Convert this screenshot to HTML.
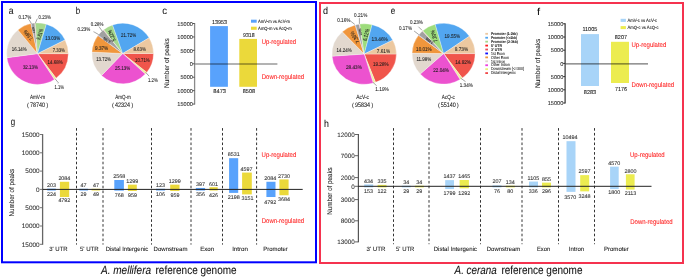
<!DOCTYPE html>
<html><head><meta charset="utf-8"><style>
html,body{margin:0;padding:0;background:#fff;}
body{width:685px;height:278px;overflow:hidden;}
svg{display:block;font-family:"Liberation Sans",sans-serif;will-change:transform;text-rendering:geometricPrecision;}
</style></head><body>
<svg width="685" height="278" viewBox="0 0 685 278">
<rect width="685" height="278" fill="#fff"/>
<rect x="2" y="2" width="314" height="260.3" fill="none" stroke="#0000ff" stroke-width="2"/>
<rect x="320" y="3" width="363" height="260" fill="none" stroke="#f5334f" stroke-width="2"/>
<text x="8.80" y="13.80" font-size="10.0" fill="#111" textLength="4.79" lengthAdjust="spacingAndGlyphs" stroke="#111" stroke-width="0.05" >a</text>
<text x="75.80" y="14.00" font-size="10.0" fill="#111" textLength="4.41" lengthAdjust="spacingAndGlyphs" stroke="#111" stroke-width="0.05" >b</text>
<text x="162.30" y="14.30" font-size="10.0" fill="#111" textLength="4.80" lengthAdjust="spacingAndGlyphs" stroke="#111" stroke-width="0.05" >c</text>
<text x="323.10" y="14.10" font-size="10.0" fill="#111" textLength="5.01" lengthAdjust="spacingAndGlyphs" stroke="#111" stroke-width="0.05" >d</text>
<text x="390.70" y="14.00" font-size="10.0" fill="#111" textLength="4.51" lengthAdjust="spacingAndGlyphs" stroke="#111" stroke-width="0.05" >e</text>
<text x="537.00" y="14.60" font-size="10.0" fill="#111" textLength="3.08" lengthAdjust="spacingAndGlyphs" stroke="#111" stroke-width="0.05" >f</text>
<text x="10.80" y="125.30" font-size="10.0" fill="#111" textLength="4.41" lengthAdjust="spacingAndGlyphs" stroke="#111" stroke-width="0.05" >g</text>
<text x="323.90" y="127.40" font-size="10.0" fill="#111" textLength="4.91" lengthAdjust="spacingAndGlyphs" stroke="#111" stroke-width="0.05" >h</text>
<path d="M37.50,53.65 L68.300,53.650 A30.8,30.75 0 0 1 56.101,78.159 Z" fill="#f0554b" stroke="#fff" stroke-width="0.3" stroke-linejoin="round"/>
<path d="M37.50,53.65 L56.101,78.159 A30.8,30.75 0 0 1 54.361,79.383 Z" fill="#eef0a0" stroke="#fff" stroke-width="0.3" stroke-linejoin="round"/>
<path d="M37.50,53.65 L54.361,79.383 A30.8,30.75 0 0 1 6.965,57.676 Z" fill="#ec52cf" stroke="#fff" stroke-width="0.3" stroke-linejoin="round"/>
<path d="M37.50,53.65 L6.965,57.676 A30.8,30.75 0 0 1 17.942,29.895 Z" fill="#e2d8ce" stroke="#fff" stroke-width="0.3" stroke-linejoin="round"/>
<path d="M37.50,53.65 L17.942,29.895 A30.8,30.75 0 0 1 30.989,23.595 Z" fill="#f0963c" stroke="#fff" stroke-width="0.3" stroke-linejoin="round"/>
<path d="M37.50,53.65 L30.989,23.595 A30.8,30.75 0 0 1 31.311,23.527 Z" fill="#3030e8" stroke="#fff" stroke-width="0.3" stroke-linejoin="round"/>
<path d="M37.50,53.65 L31.311,23.527 A30.8,30.75 0 0 1 34.794,23.019 Z" fill="#a0a0a0" stroke="#fff" stroke-width="0.3" stroke-linejoin="round"/>
<path d="M37.50,53.65 L34.794,23.019 A30.8,30.75 0 0 1 35.238,22.983 Z" fill="#e87080" stroke="#fff" stroke-width="0.3" stroke-linejoin="round"/>
<path d="M37.50,53.65 L35.238,22.983 A30.8,30.75 0 0 1 46.353,24.198 Z" fill="#a6d98e" stroke="#fff" stroke-width="0.3" stroke-linejoin="round"/>
<path d="M37.50,53.65 L46.353,24.198 A30.8,30.75 0 0 1 65.091,39.983 Z" fill="#52a6f0" stroke="#fff" stroke-width="0.3" stroke-linejoin="round"/>
<path d="M37.50,53.65 L65.091,39.983 A30.8,30.75 0 0 1 68.300,53.650 Z" fill="#ecc8a0" stroke="#fff" stroke-width="0.3" stroke-linejoin="round"/>
<path d="M122.70,53.50 L153.500,53.500 A30.8,30.3 0 0 1 146.786,72.385 Z" fill="#f0554b" stroke="#fff" stroke-width="0.3" stroke-linejoin="round"/>
<path d="M122.70,53.50 L146.786,72.385 A30.8,30.3 0 0 1 145.271,74.117 Z" fill="#eef0a0" stroke="#fff" stroke-width="0.3" stroke-linejoin="round"/>
<path d="M122.70,53.50 L145.271,74.117 A30.8,30.3 0 0 1 101.560,75.536 Z" fill="#ec52cf" stroke="#fff" stroke-width="0.3" stroke-linejoin="round"/>
<path d="M122.70,53.50 L101.560,75.536 A30.8,30.3 0 0 1 91.935,52.054 Z" fill="#e2d8ce" stroke="#fff" stroke-width="0.3" stroke-linejoin="round"/>
<path d="M122.70,53.50 L91.935,52.054 A30.8,30.3 0 0 1 97.931,35.490 Z" fill="#f0963c" stroke="#fff" stroke-width="0.3" stroke-linejoin="round"/>
<path d="M122.70,53.50 L97.931,35.490 A30.8,30.3 0 0 1 98.198,35.140 Z" fill="#3030e8" stroke="#fff" stroke-width="0.3" stroke-linejoin="round"/>
<path d="M122.70,53.50 L98.198,35.140 A30.8,30.3 0 0 1 103.292,29.972 Z" fill="#a0a0a0" stroke="#fff" stroke-width="0.3" stroke-linejoin="round"/>
<path d="M122.70,53.50 L103.292,29.972 A30.8,30.3 0 0 1 103.716,29.640 Z" fill="#e87080" stroke="#fff" stroke-width="0.3" stroke-linejoin="round"/>
<path d="M122.70,53.50 L103.716,29.640 A30.8,30.3 0 0 1 112.540,24.896 Z" fill="#a6d98e" stroke="#fff" stroke-width="0.3" stroke-linejoin="round"/>
<path d="M122.70,53.50 L112.540,24.896 A30.8,30.3 0 0 1 149.082,37.864 Z" fill="#52a6f0" stroke="#fff" stroke-width="0.3" stroke-linejoin="round"/>
<path d="M122.70,53.50 L149.082,37.864 A30.8,30.3 0 0 1 153.500,53.500 Z" fill="#ecc8a0" stroke="#fff" stroke-width="0.3" stroke-linejoin="round"/>
<path d="M364.20,54.05 L396.400,54.050 A32.2,30.25 0 0 1 375.525,82.367 Z" fill="#f0554b" stroke="#fff" stroke-width="0.3" stroke-linejoin="round"/>
<path d="M364.20,54.05 L375.525,82.367 A32.2,30.25 0 0 1 373.242,83.083 Z" fill="#eef0a0" stroke="#fff" stroke-width="0.3" stroke-linejoin="round"/>
<path d="M364.20,54.05 L373.242,83.083 A32.2,30.25 0 0 1 332.077,56.139 Z" fill="#ec52cf" stroke="#fff" stroke-width="0.3" stroke-linejoin="round"/>
<path d="M364.20,54.05 L332.077,56.139 A32.2,30.25 0 0 1 342.365,31.817 Z" fill="#e2d8ce" stroke="#fff" stroke-width="0.3" stroke-linejoin="round"/>
<path d="M364.20,54.05 L342.365,31.817 A32.2,30.25 0 0 1 355.216,25.001 Z" fill="#f0963c" stroke="#fff" stroke-width="0.3" stroke-linejoin="round"/>
<path d="M364.20,54.05 L355.216,25.001 A32.2,30.25 0 0 1 355.528,24.918 Z" fill="#3030e8" stroke="#fff" stroke-width="0.3" stroke-linejoin="round"/>
<path d="M364.20,54.05 L355.528,24.918 A32.2,30.25 0 0 1 359.363,24.143 Z" fill="#a0a0a0" stroke="#fff" stroke-width="0.3" stroke-linejoin="round"/>
<path d="M364.20,54.05 L359.363,24.143 A32.2,30.25 0 0 1 359.783,24.086 Z" fill="#e87080" stroke="#fff" stroke-width="0.3" stroke-linejoin="round"/>
<path d="M364.20,54.05 L359.783,24.086 A32.2,30.25 0 0 1 372.071,24.718 Z" fill="#9ddc7c" stroke="#fff" stroke-width="0.3" stroke-linejoin="round"/>
<path d="M364.20,54.05 L372.071,24.718 A32.2,30.25 0 0 1 392.789,40.131 Z" fill="#52a6f0" stroke="#fff" stroke-width="0.3" stroke-linejoin="round"/>
<path d="M364.20,54.05 L392.789,40.131 A32.2,30.25 0 0 1 396.400,54.050 Z" fill="#ecc8a0" stroke="#fff" stroke-width="0.3" stroke-linejoin="round"/>
<path d="M443.60,53.60 L475.100,53.600 A31.5,30.4 0 0 1 462.243,78.104 Z" fill="#f0554b" stroke="#fff" stroke-width="0.3" stroke-linejoin="round"/>
<path d="M443.60,53.60 L462.243,78.104 A31.5,30.4 0 0 1 460.042,79.530 Z" fill="#eef0a0" stroke="#fff" stroke-width="0.3" stroke-linejoin="round"/>
<path d="M443.60,53.60 L460.042,79.530 A31.5,30.4 0 0 1 420.235,73.989 Z" fill="#ec52cf" stroke="#fff" stroke-width="0.3" stroke-linejoin="round"/>
<path d="M443.60,53.60 L420.235,73.989 A31.5,30.4 0 0 1 412.105,53.065 Z" fill="#e2d8ce" stroke="#fff" stroke-width="0.3" stroke-linejoin="round"/>
<path d="M443.60,53.60 L412.105,53.065 A31.5,30.4 0 0 1 418.458,35.286 Z" fill="#f0963c" stroke="#fff" stroke-width="0.3" stroke-linejoin="round"/>
<path d="M443.60,53.60 L418.458,35.286 A31.5,30.4 0 0 1 418.662,35.028 Z" fill="#3030e8" stroke="#fff" stroke-width="0.3" stroke-linejoin="round"/>
<path d="M443.60,53.60 L418.662,35.028 A31.5,30.4 0 0 1 422.459,31.064 Z" fill="#a0a0a0" stroke="#fff" stroke-width="0.3" stroke-linejoin="round"/>
<path d="M443.60,53.60 L422.459,31.064 A31.5,30.4 0 0 1 422.798,30.771 Z" fill="#e87080" stroke="#fff" stroke-width="0.3" stroke-linejoin="round"/>
<path d="M443.60,53.60 L422.798,30.771 A31.5,30.4 0 0 1 435.231,24.293 Z" fill="#9ddc7c" stroke="#fff" stroke-width="0.3" stroke-linejoin="round"/>
<path d="M443.60,53.60 L435.231,24.293 A31.5,30.4 0 0 1 469.394,36.151 Z" fill="#52a6f0" stroke="#fff" stroke-width="0.3" stroke-linejoin="round"/>
<path d="M443.60,53.60 L469.394,36.151 A31.5,30.4 0 0 1 475.100,53.600 Z" fill="#ecc8a0" stroke="#fff" stroke-width="0.3" stroke-linejoin="round"/>
<text x="18.60" y="18.80" font-size="5.5" fill="#1c1c1c" textLength="12.80" lengthAdjust="spacingAndGlyphs" stroke="#1c1c1c" stroke-width="0.08" >0.17%</text>
<text x="38.60" y="18.60" font-size="5.5" fill="#1c1c1c" textLength="12.10" lengthAdjust="spacingAndGlyphs" stroke="#1c1c1c" stroke-width="0.08" >0.23%</text>
<path d="M28.30,19.10 L29.00,19.60 L31.40,23.50" fill="none" stroke="#333" stroke-width="0.45"/>
<path d="M37.60,18.60 L37.00,19.30 L35.30,23.30" fill="none" stroke="#333" stroke-width="0.45"/>
<text x="45.30" y="39.60" font-size="5.5" fill="#1c1c1c" textLength="14.70" lengthAdjust="spacingAndGlyphs" stroke="#1c1c1c" stroke-width="0.08" >13.03%</text>
<text x="52.70" y="52.30" font-size="5.5" fill="#1c1c1c" textLength="12.20" lengthAdjust="spacingAndGlyphs" stroke="#1c1c1c" stroke-width="0.08" >7.33%</text>
<text x="11.80" y="50.80" font-size="5.5" fill="#1c1c1c" textLength="14.90" lengthAdjust="spacingAndGlyphs" stroke="#1c1c1c" stroke-width="0.08" >16.14%</text>
<text x="47.60" y="63.60" font-size="5.5" fill="#1c1c1c" textLength="15.00" lengthAdjust="spacingAndGlyphs" stroke="#1c1c1c" stroke-width="0.08" >14.68%</text>
<text x="22.90" y="69.00" font-size="5.5" fill="#1c1c1c" textLength="15.10" lengthAdjust="spacingAndGlyphs" stroke="#1c1c1c" stroke-width="0.08" >32.13%</text>
<text x="54.40" y="88.60" font-size="5.5" fill="#1c1c1c" textLength="9.60" lengthAdjust="spacingAndGlyphs" stroke="#1c1c1c" stroke-width="0.08" >1.1%</text>
<path d="M55.10,78.80 L58.30,82.70 L58.00,83.40" fill="none" stroke="#333" stroke-width="0.45"/>
<text x="28.25" y="35.15" font-size="5.5" fill="#1c1c1c" stroke="#1c1c1c" stroke-width="0.08" text-anchor="middle" dy="0.36em" textLength="11.50" lengthAdjust="spacingAndGlyphs" transform="rotate(-131 28.25 35.15)">7.56%</text>
<text x="39.80" y="34.20" font-size="5.5" fill="#1c1c1c" stroke="#1c1c1c" stroke-width="0.08" text-anchor="middle" dy="0.36em" textLength="11.30" lengthAdjust="spacingAndGlyphs" transform="rotate(-72 39.80 34.20)">5.81%</text>
<text x="33.40" y="30.00" font-size="3.2" fill="#1c1c1c" stroke="#1c1c1c" stroke-width="0.08" text-anchor="middle" dy="0.36em" textLength="6.00" lengthAdjust="spacingAndGlyphs" transform="rotate(-100 33.40 30.00)">1.82%</text>
<text x="90.80" y="26.00" font-size="5.5" fill="#1c1c1c" textLength="12.60" lengthAdjust="spacingAndGlyphs" stroke="#1c1c1c" stroke-width="0.08" >0.28%</text>
<text x="77.50" y="30.80" font-size="5.5" fill="#1c1c1c" textLength="12.80" lengthAdjust="spacingAndGlyphs" stroke="#1c1c1c" stroke-width="0.08" >0.23%</text>
<path d="M99.00,26.60 L102.20,31.10" fill="none" stroke="#333" stroke-width="0.45"/>
<path d="M93.50,31.70 L94.50,32.20 L98.70,34.60" fill="none" stroke="#333" stroke-width="0.45"/>
<text x="121.10" y="37.20" font-size="5.5" fill="#1c1c1c" textLength="15.00" lengthAdjust="spacingAndGlyphs" stroke="#1c1c1c" stroke-width="0.08" >21.72%</text>
<text x="133.40" y="51.20" font-size="5.5" fill="#1c1c1c" textLength="12.60" lengthAdjust="spacingAndGlyphs" stroke="#1c1c1c" stroke-width="0.08" >8.63%</text>
<text x="96.20" y="60.60" font-size="5.5" fill="#1c1c1c" textLength="14.80" lengthAdjust="spacingAndGlyphs" stroke="#1c1c1c" stroke-width="0.08" >13.72%</text>
<text x="135.00" y="61.80" font-size="5.5" fill="#1c1c1c" textLength="14.70" lengthAdjust="spacingAndGlyphs" stroke="#1c1c1c" stroke-width="0.08" >10.71%</text>
<text x="115.10" y="70.20" font-size="5.5" fill="#1c1c1c" textLength="15.00" lengthAdjust="spacingAndGlyphs" stroke="#1c1c1c" stroke-width="0.08" >25.13%</text>
<text x="95.00" y="50.00" font-size="5.5" fill="#1c1c1c" textLength="13.20" lengthAdjust="spacingAndGlyphs" stroke="#1c1c1c" stroke-width="0.08" >9.37%</text>
<text x="147.90" y="81.50" font-size="5.5" fill="#1c1c1c" textLength="9.90" lengthAdjust="spacingAndGlyphs" stroke="#1c1c1c" stroke-width="0.08" >1.2%</text>
<path d="M145.70,72.40 L149.10,76.20" fill="none" stroke="#333" stroke-width="0.45"/>
<text x="111.65" y="35.75" font-size="5.5" fill="#1c1c1c" stroke="#1c1c1c" stroke-width="0.08" text-anchor="middle" dy="0.36em" textLength="12.00" lengthAdjust="spacingAndGlyphs" transform="rotate(-111.5 111.65 35.75)">5.22%</text>
<text x="106.80" y="40.30" font-size="4.2" fill="#1c1c1c" stroke="#1c1c1c" stroke-width="0.08" text-anchor="middle" dy="0.36em" textLength="8.00" lengthAdjust="spacingAndGlyphs" transform="rotate(-145 106.80 40.30)">3.79%</text>
<text x="337.20" y="21.50" font-size="5.5" fill="#1c1c1c" textLength="13.30" lengthAdjust="spacingAndGlyphs" stroke="#1c1c1c" stroke-width="0.08" >0.16%</text>
<text x="354.10" y="16.80" font-size="5.5" fill="#1c1c1c" textLength="13.20" lengthAdjust="spacingAndGlyphs" stroke="#1c1c1c" stroke-width="0.08" >0.21%</text>
<path d="M350.50,21.30 L351.20,21.60 L354.80,24.40" fill="none" stroke="#333" stroke-width="0.45"/>
<path d="M359.60,17.90 L359.40,18.60 L359.40,23.90" fill="none" stroke="#333" stroke-width="0.45"/>
<text x="371.60" y="40.70" font-size="5.5" fill="#1c1c1c" textLength="16.30" lengthAdjust="spacingAndGlyphs" stroke="#1c1c1c" stroke-width="0.08" >13.46%</text>
<text x="376.80" y="52.50" font-size="5.5" fill="#1c1c1c" textLength="13.30" lengthAdjust="spacingAndGlyphs" stroke="#1c1c1c" stroke-width="0.08" >7.61%</text>
<text x="336.60" y="51.60" font-size="5.5" fill="#1c1c1c" textLength="15.10" lengthAdjust="spacingAndGlyphs" stroke="#1c1c1c" stroke-width="0.08" >14.24%</text>
<text x="373.00" y="66.40" font-size="5.5" fill="#1c1c1c" textLength="15.50" lengthAdjust="spacingAndGlyphs" stroke="#1c1c1c" stroke-width="0.08" >19.28%</text>
<text x="346.00" y="69.00" font-size="5.5" fill="#1c1c1c" textLength="15.80" lengthAdjust="spacingAndGlyphs" stroke="#1c1c1c" stroke-width="0.08" >28.43%</text>
<text x="375.30" y="90.80" font-size="5.5" fill="#1c1c1c" textLength="13.50" lengthAdjust="spacingAndGlyphs" stroke="#1c1c1c" stroke-width="0.08" >1.19%</text>
<path d="M373.00,82.40 L376.60,85.70" fill="none" stroke="#333" stroke-width="0.45"/>
<text x="354.80" y="37.35" font-size="5.5" fill="#1c1c1c" stroke="#1c1c1c" stroke-width="0.08" text-anchor="middle" dy="0.36em" textLength="13.00" lengthAdjust="spacingAndGlyphs" transform="rotate(-122 354.80 37.35)">7.36%</text>
<text x="366.10" y="34.80" font-size="5.5" fill="#1c1c1c" stroke="#1c1c1c" stroke-width="0.08" text-anchor="middle" dy="0.36em" textLength="12.20" lengthAdjust="spacingAndGlyphs" transform="rotate(-75 366.10 34.80)">6.12%</text>
<text x="360.30" y="32.00" font-size="3.3" fill="#1c1c1c" stroke="#1c1c1c" stroke-width="0.08" text-anchor="middle" dy="0.36em" textLength="7.00" lengthAdjust="spacingAndGlyphs" transform="rotate(-100 360.30 32.00)">1.94%</text>
<text x="410.00" y="23.80" font-size="5.5" fill="#1c1c1c" textLength="12.90" lengthAdjust="spacingAndGlyphs" stroke="#1c1c1c" stroke-width="0.08" >0.23%</text>
<text x="399.00" y="30.00" font-size="5.5" fill="#1c1c1c" textLength="13.00" lengthAdjust="spacingAndGlyphs" stroke="#1c1c1c" stroke-width="0.08" >0.17%</text>
<path d="M418.40,26.70 L422.00,30.30" fill="none" stroke="#333" stroke-width="0.45"/>
<path d="M414.10,31.00 L418.80,34.60" fill="none" stroke="#333" stroke-width="0.45"/>
<text x="444.60" y="38.00" font-size="5.5" fill="#1c1c1c" textLength="15.40" lengthAdjust="spacingAndGlyphs" stroke="#1c1c1c" stroke-width="0.08" >19.55%</text>
<text x="454.70" y="50.60" font-size="5.5" fill="#1c1c1c" textLength="13.40" lengthAdjust="spacingAndGlyphs" stroke="#1c1c1c" stroke-width="0.08" >9.73%</text>
<text x="416.10" y="50.60" font-size="5.5" fill="#1c1c1c" textLength="15.50" lengthAdjust="spacingAndGlyphs" stroke="#1c1c1c" stroke-width="0.08" >10.01%</text>
<text x="455.20" y="63.70" font-size="5.5" fill="#1c1c1c" textLength="15.80" lengthAdjust="spacingAndGlyphs" stroke="#1c1c1c" stroke-width="0.08" >14.92%</text>
<text x="416.40" y="60.70" font-size="5.5" fill="#1c1c1c" textLength="14.80" lengthAdjust="spacingAndGlyphs" stroke="#1c1c1c" stroke-width="0.08" >11.98%</text>
<text x="433.30" y="72.00" font-size="5.5" fill="#1c1c1c" textLength="15.60" lengthAdjust="spacingAndGlyphs" stroke="#1c1c1c" stroke-width="0.08" >22.04%</text>
<text x="459.80" y="86.50" font-size="5.5" fill="#1c1c1c" textLength="13.00" lengthAdjust="spacingAndGlyphs" stroke="#1c1c1c" stroke-width="0.08" >1.34%</text>
<path d="M460.70,78.20 L465.50,81.60" fill="none" stroke="#333" stroke-width="0.45"/>
<text x="434.00" y="36.20" font-size="5.5" fill="#1c1c1c" stroke="#1c1c1c" stroke-width="0.08" text-anchor="middle" dy="0.36em" textLength="12.00" lengthAdjust="spacingAndGlyphs" transform="rotate(-107 434.00 36.20)">7.20%</text>
<text x="429.30" y="40.80" font-size="4.0" fill="#1c1c1c" stroke="#1c1c1c" stroke-width="0.08" text-anchor="middle" dy="0.36em" textLength="8.00" lengthAdjust="spacingAndGlyphs" transform="rotate(-145 429.30 40.80)">2.83%</text>
<text x="29.90" y="99.40" font-size="6.0" fill="#222" textLength="15.20" lengthAdjust="spacingAndGlyphs" stroke="#222" stroke-width="0.08" >AmV-m</text>
<text x="29.95" y="106.60" font-size="6.4" fill="#222" textLength="15.10" lengthAdjust="spacingAndGlyphs" stroke="#222" stroke-width="0.08" >78740</text>
<text x="26.90" y="106.90" font-size="5.9" fill="#222" stroke="#222" stroke-width="0.08" >(</text>
<text x="46.14" y="106.90" font-size="5.9" fill="#222" stroke="#222" stroke-width="0.08" >)</text>
<text x="115.20" y="99.40" font-size="6.0" fill="#222" textLength="15.49" lengthAdjust="spacingAndGlyphs" stroke="#222" stroke-width="0.08" >AmQ-m</text>
<text x="114.95" y="106.60" font-size="6.4" fill="#222" textLength="15.10" lengthAdjust="spacingAndGlyphs" stroke="#222" stroke-width="0.08" >42324</text>
<text x="111.90" y="106.90" font-size="5.9" fill="#222" stroke="#222" stroke-width="0.08" >(</text>
<text x="131.14" y="106.90" font-size="5.9" fill="#222" stroke="#222" stroke-width="0.08" >)</text>
<text x="356.20" y="99.40" font-size="6.0" fill="#222" textLength="12.80" lengthAdjust="spacingAndGlyphs" stroke="#222" stroke-width="0.08" >AcV-c</text>
<text x="354.95" y="106.60" font-size="6.4" fill="#222" textLength="15.10" lengthAdjust="spacingAndGlyphs" stroke="#222" stroke-width="0.08" >95834</text>
<text x="351.90" y="106.90" font-size="5.9" fill="#222" stroke="#222" stroke-width="0.08" >(</text>
<text x="371.14" y="106.90" font-size="5.9" fill="#222" stroke="#222" stroke-width="0.08" >)</text>
<text x="441.80" y="99.40" font-size="6.0" fill="#222" textLength="13.00" lengthAdjust="spacingAndGlyphs" stroke="#222" stroke-width="0.08" >AcQ-c</text>
<text x="440.80" y="106.60" font-size="6.4" fill="#222" textLength="15.10" lengthAdjust="spacingAndGlyphs" stroke="#222" stroke-width="0.08" >55140</text>
<text x="438.00" y="106.90" font-size="5.9" fill="#222" stroke="#222" stroke-width="0.08" >(</text>
<text x="456.74" y="106.90" font-size="5.9" fill="#222" stroke="#222" stroke-width="0.08" >)</text>
<rect x="485.30" y="32.90" width="2.70" height="1.80" fill="#ecc8a0"/>
<text x="491.00" y="35.00" font-size="3.9" fill="#1e1e1e" textLength="26.50" lengthAdjust="spacingAndGlyphs" font-weight="bold" stroke="#1e1e1e" stroke-width="0.08" >Promoter (1-2kb)</text>
<rect x="485.30" y="36.83" width="2.70" height="1.80" fill="#52a6f0"/>
<text x="491.00" y="38.93" font-size="3.9" fill="#1e1e1e" textLength="26.00" lengthAdjust="spacingAndGlyphs" font-weight="bold" stroke="#1e1e1e" stroke-width="0.08" >Promoter (&lt;=1kb)</text>
<rect x="485.30" y="40.76" width="2.70" height="1.80" fill="#a6d98e"/>
<text x="491.00" y="42.86" font-size="3.9" fill="#1e1e1e" textLength="26.80" lengthAdjust="spacingAndGlyphs" font-weight="bold" stroke="#1e1e1e" stroke-width="0.08" >Promoter (2-3kb)</text>
<rect x="485.30" y="44.69" width="2.70" height="1.80" fill="#ff2020"/>
<text x="491.00" y="46.79" font-size="3.9" fill="#1e1e1e" textLength="10.90" lengthAdjust="spacingAndGlyphs" font-weight="bold" stroke="#1e1e1e" stroke-width="0.08" >5' UTR</text>
<rect x="485.30" y="48.62" width="2.70" height="1.80" fill="#e8505a"/>
<text x="491.00" y="50.72" font-size="3.9" fill="#1e1e1e" textLength="11.00" lengthAdjust="spacingAndGlyphs" font-weight="bold" stroke="#1e1e1e" stroke-width="0.08" >3' UTR</text>
<rect x="485.30" y="52.55" width="2.70" height="1.80" fill="#1010ff"/>
<text x="491.00" y="54.65" font-size="4.3" fill="#222" textLength="13.60" lengthAdjust="spacingAndGlyphs" stroke="#222" stroke-width="0.08" >1st Exon</text>
<rect x="485.30" y="56.48" width="2.70" height="1.80" fill="#f0963c"/>
<text x="491.00" y="58.58" font-size="4.3" fill="#222" textLength="17.90" lengthAdjust="spacingAndGlyphs" stroke="#222" stroke-width="0.08" >Other Exon</text>
<rect x="485.30" y="60.41" width="2.70" height="1.80" fill="#e2d8ce"/>
<text x="491.00" y="62.51" font-size="4.3" fill="#222" textLength="14.20" lengthAdjust="spacingAndGlyphs" stroke="#222" stroke-width="0.08" >1st Intron</text>
<rect x="485.30" y="64.34" width="2.70" height="1.80" fill="#f040e0"/>
<text x="491.00" y="66.44" font-size="4.3" fill="#222" textLength="18.70" lengthAdjust="spacingAndGlyphs" stroke="#222" stroke-width="0.08" >Other Intron</text>
<rect x="485.30" y="68.27" width="2.70" height="1.80" fill="#e8f07a"/>
<text x="491.00" y="70.37" font-size="4.3" fill="#222" textLength="33.10" lengthAdjust="spacingAndGlyphs" stroke="#222" stroke-width="0.08" >Downstream (&lt;=300)</text>
<rect x="485.30" y="72.20" width="2.70" height="1.80" fill="#f04848"/>
<text x="491.00" y="74.30" font-size="4.3" fill="#222" textLength="24.60" lengthAdjust="spacingAndGlyphs" stroke="#222" stroke-width="0.08" >Distal Intergenic</text>
<line x1="194.60" y1="23.06" x2="194.60" y2="104.54" stroke="#8a8a8a" stroke-width="1.3" />
<line x1="192.60" y1="23.51" x2="194.60" y2="23.51" stroke="#444" stroke-width="0.9" />
<text x="177.33" y="25.71" font-size="5.6" fill="#333" stroke="#333" stroke-width="0.08" >15000</text>
<line x1="192.60" y1="36.94" x2="194.60" y2="36.94" stroke="#444" stroke-width="0.9" />
<text x="177.33" y="39.14" font-size="5.6" fill="#333" stroke="#333" stroke-width="0.08" >10000</text>
<line x1="192.60" y1="50.37" x2="194.60" y2="50.37" stroke="#444" stroke-width="0.9" />
<text x="180.44" y="52.57" font-size="5.6" fill="#333" stroke="#333" stroke-width="0.08" >5000</text>
<line x1="192.60" y1="63.80" x2="194.60" y2="63.80" stroke="#444" stroke-width="0.9" />
<text x="189.79" y="66.00" font-size="5.6" fill="#333" stroke="#333" stroke-width="0.08" >0</text>
<line x1="192.60" y1="77.23" x2="194.60" y2="77.23" stroke="#444" stroke-width="0.9" />
<text x="180.44" y="79.43" font-size="5.6" fill="#333" stroke="#333" stroke-width="0.08" >5000</text>
<line x1="192.60" y1="90.66" x2="194.60" y2="90.66" stroke="#444" stroke-width="0.9" />
<text x="177.33" y="92.86" font-size="5.6" fill="#333" stroke="#333" stroke-width="0.08" >10000</text>
<line x1="192.60" y1="104.09" x2="194.60" y2="104.09" stroke="#444" stroke-width="0.9" />
<text x="177.33" y="106.29" font-size="5.6" fill="#333" stroke="#333" stroke-width="0.08" >15000</text>
<rect x="210.10" y="26.10" width="17.80" height="60.70" fill="#58a2fc"/>
<rect x="239.30" y="38.90" width="17.70" height="47.90" fill="#ebd93a"/>
<line x1="195.20" y1="63.90" x2="277.40" y2="63.90" stroke="#000" stroke-width="1.5" stroke-opacity="0.4"/>
<text x="212.00" y="23.80" font-size="5.6" fill="#1a1a1a" textLength="15.10" lengthAdjust="spacingAndGlyphs" stroke="#1a1a1a" stroke-width="0.08" >13953</text>
<text x="213.30" y="92.70" font-size="5.6" fill="#1a1a1a" textLength="12.70" lengthAdjust="spacingAndGlyphs" stroke="#1a1a1a" stroke-width="0.08" >8473</text>
<text x="243.00" y="37.00" font-size="5.6" fill="#1a1a1a" textLength="11.60" lengthAdjust="spacingAndGlyphs" stroke="#1a1a1a" stroke-width="0.08" >9318</text>
<text x="242.80" y="93.40" font-size="5.6" fill="#1a1a1a" textLength="12.30" lengthAdjust="spacingAndGlyphs" stroke="#1a1a1a" stroke-width="0.08" >8508</text>
<rect x="251.00" y="19.70" width="5.70" height="3.00" fill="#58a2fc"/>
<text x="258.10" y="23.00" font-size="4.6" fill="#1a1a1a" textLength="31.90" lengthAdjust="spacingAndGlyphs" stroke="#1a1a1a" stroke-width="0.08" >AmV-m vs AcV-m</text>
<rect x="251.00" y="26.70" width="5.70" height="3.10" fill="#ebd93a"/>
<text x="258.10" y="29.90" font-size="4.6" fill="#1a1a1a" textLength="33.60" lengthAdjust="spacingAndGlyphs" stroke="#1a1a1a" stroke-width="0.08" >AmQ-m vs AcQ-m</text>
<text x="261.75" y="43.90" font-size="6.8" fill="#ff2424" textLength="34.24" lengthAdjust="spacingAndGlyphs" stroke="#ff2424" stroke-width="0.08" >Up-regulated</text>
<text x="261.80" y="79.10" font-size="6.8" fill="#ff2424" textLength="42.30" lengthAdjust="spacingAndGlyphs" stroke="#ff2424" stroke-width="0.08" >Down-regulated</text>
<text x="144.40" y="63.10" font-size="6.9" fill="#222" textLength="49.80" lengthAdjust="spacingAndGlyphs" stroke="#222" stroke-width="0.08" transform="rotate(-90 169.30 63.10)" >Number of peaks</text>
<line x1="565.10" y1="23.35" x2="565.10" y2="103.45" stroke="#222" stroke-width="1.1" />
<line x1="563.10" y1="23.80" x2="565.10" y2="23.80" stroke="#222" stroke-width="0.9" />
<text x="547.73" y="26.00" font-size="5.6" fill="#333" stroke="#333" stroke-width="0.08" >15000</text>
<line x1="563.10" y1="37.00" x2="565.10" y2="37.00" stroke="#222" stroke-width="0.9" />
<text x="547.73" y="39.20" font-size="5.6" fill="#333" stroke="#333" stroke-width="0.08" >10000</text>
<line x1="563.10" y1="50.20" x2="565.10" y2="50.20" stroke="#222" stroke-width="0.9" />
<text x="550.84" y="52.40" font-size="5.6" fill="#333" stroke="#333" stroke-width="0.08" >5000</text>
<line x1="563.10" y1="63.40" x2="565.10" y2="63.40" stroke="#222" stroke-width="0.9" />
<text x="560.19" y="65.60" font-size="5.6" fill="#333" stroke="#333" stroke-width="0.08" >0</text>
<line x1="563.10" y1="76.60" x2="565.10" y2="76.60" stroke="#222" stroke-width="0.9" />
<text x="550.84" y="78.80" font-size="5.6" fill="#333" stroke="#333" stroke-width="0.08" >5000</text>
<line x1="563.10" y1="89.80" x2="565.10" y2="89.80" stroke="#222" stroke-width="0.9" />
<text x="547.73" y="92.00" font-size="5.6" fill="#333" stroke="#333" stroke-width="0.08" >10000</text>
<line x1="563.10" y1="103.00" x2="565.10" y2="103.00" stroke="#222" stroke-width="0.9" />
<text x="547.73" y="105.20" font-size="5.6" fill="#333" stroke="#333" stroke-width="0.08" >15000</text>
<rect x="581.00" y="34.10" width="18.00" height="51.90" fill="#a8d4f8"/>
<rect x="611.00" y="41.80" width="18.00" height="41.20" fill="#ecec50"/>
<line x1="565.60" y1="63.85" x2="648.00" y2="63.85" stroke="#000" stroke-width="1.3" stroke-opacity="0.55"/>
<text x="582.40" y="30.70" font-size="5.6" fill="#1a1a1a" textLength="14.90" lengthAdjust="spacingAndGlyphs" stroke="#1a1a1a" stroke-width="0.08" >11005</text>
<text x="583.80" y="94.30" font-size="5.6" fill="#1a1a1a" textLength="12.40" lengthAdjust="spacingAndGlyphs" stroke="#1a1a1a" stroke-width="0.08" >8283</text>
<text x="614.80" y="38.80" font-size="5.6" fill="#1a1a1a" textLength="12.20" lengthAdjust="spacingAndGlyphs" stroke="#1a1a1a" stroke-width="0.08" >8207</text>
<text x="614.90" y="91.30" font-size="5.6" fill="#1a1a1a" textLength="12.00" lengthAdjust="spacingAndGlyphs" stroke="#1a1a1a" stroke-width="0.08" >7176</text>
<rect x="620.60" y="18.80" width="5.30" height="3.10" fill="#a8d4f8"/>
<text x="627.40" y="21.90" font-size="4.6" fill="#1a1a1a" textLength="29.60" lengthAdjust="spacingAndGlyphs" stroke="#1a1a1a" stroke-width="0.08" >AmV-c vs AcV-c</text>
<rect x="620.60" y="26.10" width="5.30" height="3.00" fill="#ecec50"/>
<text x="627.40" y="29.00" font-size="4.6" fill="#1a1a1a" textLength="31.20" lengthAdjust="spacingAndGlyphs" stroke="#1a1a1a" stroke-width="0.08" >AmQ-c vs AcQ-c</text>
<text x="631.50" y="46.80" font-size="6.8" fill="#ff2424" textLength="34.79" lengthAdjust="spacingAndGlyphs" stroke="#ff2424" stroke-width="0.08" >Up-regulated</text>
<text x="631.60" y="86.80" font-size="6.8" fill="#ff2424" textLength="42.50" lengthAdjust="spacingAndGlyphs" stroke="#ff2424" stroke-width="0.08" >Down-regulated</text>
<text x="515.25" y="63.35" font-size="6.9" fill="#222" textLength="49.10" lengthAdjust="spacingAndGlyphs" stroke="#222" stroke-width="0.08" transform="rotate(-90 539.80 63.35)" >Number of peaks</text>
<line x1="42.60" y1="134.05" x2="42.60" y2="244.75" stroke="#666" stroke-width="1.3" />
<line x1="40.00" y1="134.50" x2="42.60" y2="134.50" stroke="#666" stroke-width="0.9" />
<text x="21.81" y="136.80" font-size="6.4" fill="#333" stroke="#333" stroke-width="0.08" >15000</text>
<line x1="40.00" y1="152.80" x2="42.60" y2="152.80" stroke="#666" stroke-width="0.9" />
<text x="21.81" y="155.10" font-size="6.4" fill="#333" stroke="#333" stroke-width="0.08" >10000</text>
<line x1="40.00" y1="171.10" x2="42.60" y2="171.10" stroke="#666" stroke-width="0.9" />
<text x="25.36" y="173.40" font-size="6.4" fill="#333" stroke="#333" stroke-width="0.08" >5000</text>
<line x1="40.00" y1="189.40" x2="42.60" y2="189.40" stroke="#666" stroke-width="0.9" />
<text x="36.05" y="191.70" font-size="6.4" fill="#333" stroke="#333" stroke-width="0.08" >0</text>
<line x1="40.00" y1="207.70" x2="42.60" y2="207.70" stroke="#666" stroke-width="0.9" />
<text x="25.36" y="210.00" font-size="6.4" fill="#333" stroke="#333" stroke-width="0.08" >5000</text>
<line x1="40.00" y1="226.00" x2="42.60" y2="226.00" stroke="#666" stroke-width="0.9" />
<text x="21.81" y="228.30" font-size="6.4" fill="#333" stroke="#333" stroke-width="0.08" >10000</text>
<line x1="40.00" y1="244.30" x2="42.60" y2="244.30" stroke="#666" stroke-width="0.9" />
<text x="21.81" y="246.60" font-size="6.4" fill="#333" stroke="#333" stroke-width="0.08" >15000</text>
<line x1="76.50" y1="128.10" x2="76.50" y2="244.60" stroke="#333" stroke-width="1.0" stroke-dasharray="2.6 2.2"/>
<line x1="103.00" y1="128.10" x2="103.00" y2="244.60" stroke="#333" stroke-width="1.0" stroke-dasharray="2.6 2.2"/>
<line x1="151.50" y1="128.10" x2="151.50" y2="244.60" stroke="#333" stroke-width="1.0" stroke-dasharray="2.6 2.2"/>
<line x1="191.00" y1="128.10" x2="191.00" y2="244.60" stroke="#333" stroke-width="1.0" stroke-dasharray="2.6 2.2"/>
<line x1="222.50" y1="128.10" x2="222.50" y2="244.60" stroke="#333" stroke-width="1.0" stroke-dasharray="2.6 2.2"/>
<line x1="256.60" y1="128.10" x2="256.60" y2="244.60" stroke="#333" stroke-width="1.0" stroke-dasharray="2.6 2.2"/>
<rect x="47.20" y="188.66" width="8.60" height="1.84" fill="#58a2fc"/>
<rect x="59.90" y="181.77" width="9.30" height="15.25" fill="#ebd93a"/>
<rect x="79.30" y="188.80" width="8.70" height="1.70" fill="#58a2fc"/>
<rect x="91.60" y="188.80" width="8.60" height="1.70" fill="#ebd93a"/>
<rect x="114.30" y="180.00" width="9.60" height="10.62" fill="#58a2fc"/>
<rect x="127.90" y="184.65" width="8.90" height="6.28" fill="#ebd93a"/>
<rect x="156.00" y="188.80" width="9.10" height="1.70" fill="#58a2fc"/>
<rect x="170.20" y="184.65" width="9.30" height="6.28" fill="#ebd93a"/>
<rect x="195.80" y="187.95" width="9.30" height="2.55" fill="#58a2fc"/>
<rect x="209.50" y="187.20" width="8.20" height="3.30" fill="#ebd93a"/>
<rect x="229.10" y="158.18" width="9.10" height="34.72" fill="#58a2fc"/>
<rect x="242.10" y="172.57" width="9.70" height="21.84" fill="#ebd93a"/>
<rect x="266.40" y="181.77" width="9.10" height="15.25" fill="#58a2fc"/>
<rect x="279.40" y="179.41" width="9.20" height="15.85" fill="#ebd93a"/>
<line x1="42.70" y1="189.40" x2="302.70" y2="189.40" stroke="#222" stroke-width="1.0" />
<text x="47.10" y="186.80" font-size="5.4" fill="#333" stroke="#333" stroke-width="0.08" >203</text>
<text x="47.10" y="196.30" font-size="5.4" fill="#333" stroke="#333" stroke-width="0.08" >224</text>
<text x="58.39" y="180.00" font-size="5.4" fill="#333" stroke="#333" stroke-width="0.08" >2084</text>
<text x="58.39" y="202.40" font-size="5.4" fill="#333" stroke="#333" stroke-width="0.08" >4792</text>
<text x="80.60" y="186.80" font-size="5.4" fill="#333" stroke="#333" stroke-width="0.08" >47</text>
<text x="80.60" y="195.60" font-size="5.4" fill="#333" stroke="#333" stroke-width="0.08" >29</text>
<text x="92.90" y="186.80" font-size="5.4" fill="#333" stroke="#333" stroke-width="0.08" >47</text>
<text x="92.90" y="195.60" font-size="5.4" fill="#333" stroke="#333" stroke-width="0.08" >49</text>
<text x="113.19" y="177.90" font-size="5.4" fill="#333" stroke="#333" stroke-width="0.08" >2568</text>
<text x="114.70" y="196.60" font-size="5.4" fill="#333" stroke="#333" stroke-width="0.08" >768</text>
<text x="126.29" y="182.70" font-size="5.4" fill="#333" stroke="#333" stroke-width="0.08" >1299</text>
<text x="127.90" y="196.60" font-size="5.4" fill="#333" stroke="#333" stroke-width="0.08" >959</text>
<text x="156.10" y="186.60" font-size="5.4" fill="#333" stroke="#333" stroke-width="0.08" >123</text>
<text x="156.10" y="196.00" font-size="5.4" fill="#333" stroke="#333" stroke-width="0.08" >106</text>
<text x="168.84" y="183.00" font-size="5.4" fill="#333" stroke="#333" stroke-width="0.08" >1299</text>
<text x="170.50" y="196.70" font-size="5.4" fill="#333" stroke="#333" stroke-width="0.08" >959</text>
<text x="195.95" y="185.90" font-size="5.4" fill="#333" stroke="#333" stroke-width="0.08" >397</text>
<text x="195.95" y="195.70" font-size="5.4" fill="#333" stroke="#333" stroke-width="0.08" >356</text>
<text x="209.10" y="185.90" font-size="5.4" fill="#333" stroke="#333" stroke-width="0.08" >601</text>
<text x="209.10" y="196.70" font-size="5.4" fill="#333" stroke="#333" stroke-width="0.08" >426</text>
<text x="227.79" y="156.20" font-size="5.4" fill="#333" stroke="#333" stroke-width="0.08" >8531</text>
<text x="227.79" y="198.70" font-size="5.4" fill="#333" stroke="#333" stroke-width="0.08" >2198</text>
<text x="240.59" y="170.60" font-size="5.4" fill="#333" stroke="#333" stroke-width="0.08" >4597</text>
<text x="241.49" y="200.30" font-size="5.4" fill="#333" stroke="#333" stroke-width="0.08" >3151</text>
<text x="264.29" y="180.40" font-size="5.4" fill="#333" stroke="#333" stroke-width="0.08" >2084</text>
<text x="264.29" y="203.50" font-size="5.4" fill="#333" stroke="#333" stroke-width="0.08" >4792</text>
<text x="278.09" y="177.60" font-size="5.4" fill="#333" stroke="#333" stroke-width="0.08" >2730</text>
<text x="278.09" y="201.30" font-size="5.4" fill="#333" stroke="#333" stroke-width="0.08" >3684</text>
<text x="49.15" y="250.60" font-size="6.2" fill="#222" textLength="18.50" lengthAdjust="spacingAndGlyphs" stroke="#222" stroke-width="0.08" >3' UTR</text>
<text x="79.90" y="250.60" font-size="6.2" fill="#222" textLength="18.80" lengthAdjust="spacingAndGlyphs" stroke="#222" stroke-width="0.08" >5' UTR</text>
<text x="105.75" y="250.60" font-size="6.2" fill="#222" textLength="42.50" lengthAdjust="spacingAndGlyphs" stroke="#222" stroke-width="0.08" >Distal Intergenic</text>
<text x="153.55" y="250.60" font-size="6.2" fill="#222" textLength="33.90" lengthAdjust="spacingAndGlyphs" stroke="#222" stroke-width="0.08" >Downstream</text>
<text x="200.20" y="250.60" font-size="6.2" fill="#222" textLength="14.00" lengthAdjust="spacingAndGlyphs" stroke="#222" stroke-width="0.08" >Exon</text>
<text x="232.15" y="250.60" font-size="6.2" fill="#222" textLength="15.90" lengthAdjust="spacingAndGlyphs" stroke="#222" stroke-width="0.08" >Intron</text>
<text x="263.25" y="250.60" font-size="6.2" fill="#222" textLength="24.50" lengthAdjust="spacingAndGlyphs" stroke="#222" stroke-width="0.08" >Promoter</text>
<text x="261.60" y="156.90" font-size="6.8" fill="#ff2424" textLength="34.69" lengthAdjust="spacingAndGlyphs" stroke="#ff2424" stroke-width="0.08" >Up-regulated</text>
<text x="261.80" y="223.10" font-size="6.8" fill="#ff2424" textLength="42.30" lengthAdjust="spacingAndGlyphs" stroke="#ff2424" stroke-width="0.08" >Down-regulated</text>
<text x="-10.25" y="192.65" font-size="6.9" fill="#222" textLength="47.70" lengthAdjust="spacingAndGlyphs" stroke="#222" stroke-width="0.08" transform="rotate(-90 13.60 192.65)" >Number of peaks</text>
<line x1="358.40" y1="134.05" x2="358.40" y2="242.35" stroke="#555" stroke-width="1.2" />
<line x1="354.80" y1="134.50" x2="358.40" y2="134.50" stroke="#555" stroke-width="0.9" />
<text x="337.29" y="136.80" font-size="6.3" fill="#333" stroke="#333" stroke-width="0.08" >12000</text>
<line x1="354.80" y1="155.70" x2="358.40" y2="155.70" stroke="#555" stroke-width="0.9" />
<text x="340.78" y="158.00" font-size="6.3" fill="#333" stroke="#333" stroke-width="0.08" >7000</text>
<line x1="354.80" y1="177.60" x2="358.40" y2="177.60" stroke="#555" stroke-width="0.9" />
<text x="340.78" y="179.90" font-size="6.3" fill="#333" stroke="#333" stroke-width="0.08" >2000</text>
<line x1="354.80" y1="186.30" x2="358.40" y2="186.30" stroke="#555" stroke-width="0.9" />
<text x="351.30" y="188.60" font-size="6.3" fill="#333" stroke="#333" stroke-width="0.08" >0</text>
<line x1="354.80" y1="199.60" x2="358.40" y2="199.60" stroke="#555" stroke-width="0.9" />
<text x="340.78" y="201.90" font-size="6.3" fill="#333" stroke="#333" stroke-width="0.08" >3000</text>
<line x1="354.80" y1="220.80" x2="358.40" y2="220.80" stroke="#555" stroke-width="0.9" />
<text x="340.78" y="223.10" font-size="6.3" fill="#333" stroke="#333" stroke-width="0.08" >8000</text>
<line x1="354.80" y1="241.90" x2="358.40" y2="241.90" stroke="#555" stroke-width="0.9" />
<text x="337.29" y="244.20" font-size="6.3" fill="#333" stroke="#333" stroke-width="0.08" >13000</text>
<line x1="393.50" y1="128.10" x2="393.50" y2="244.20" stroke="#333" stroke-width="1.0" stroke-dasharray="2.6 2.2"/>
<line x1="429.00" y1="128.10" x2="429.00" y2="244.20" stroke="#333" stroke-width="1.0" stroke-dasharray="2.6 2.2"/>
<line x1="480.50" y1="128.10" x2="480.50" y2="244.20" stroke="#333" stroke-width="1.0" stroke-dasharray="2.6 2.2"/>
<line x1="522.00" y1="128.10" x2="522.00" y2="244.20" stroke="#333" stroke-width="1.0" stroke-dasharray="2.6 2.2"/>
<line x1="558.50" y1="128.10" x2="558.50" y2="244.20" stroke="#333" stroke-width="1.0" stroke-dasharray="2.6 2.2"/>
<line x1="594.50" y1="128.10" x2="594.50" y2="244.20" stroke="#333" stroke-width="1.0" stroke-dasharray="2.6 2.2"/>
<rect x="364.20" y="184.43" width="9.00" height="2.97" fill="#a8d4f8"/>
<rect x="377.60" y="184.86" width="8.90" height="2.54" fill="#ecec50"/>
<rect x="401.80" y="185.70" width="8.90" height="1.70" fill="#a8d4f8"/>
<rect x="414.90" y="185.70" width="8.90" height="1.70" fill="#ecec50"/>
<rect x="445.20" y="180.12" width="8.80" height="8.99" fill="#a8d4f8"/>
<rect x="459.60" y="180.00" width="9.30" height="8.32" fill="#ecec50"/>
<rect x="492.50" y="185.41" width="9.00" height="1.99" fill="#a8d4f8"/>
<rect x="505.80" y="185.70" width="9.00" height="1.70" fill="#ecec50"/>
<rect x="529.00" y="181.55" width="9.00" height="5.85" fill="#a8d4f8"/>
<rect x="542.00" y="182.62" width="9.00" height="4.78" fill="#ecec50"/>
<rect x="566.50" y="141.18" width="9.00" height="50.69" fill="#a8d4f8"/>
<rect x="580.20" y="175.13" width="9.00" height="16.23" fill="#ecec50"/>
<rect x="610.10" y="166.65" width="8.60" height="22.46" fill="#a8d4f8"/>
<rect x="625.90" y="174.26" width="8.70" height="15.34" fill="#ecec50"/>
<line x1="358.20" y1="186.30" x2="651.50" y2="186.30" stroke="#222" stroke-width="1.0" />
<text x="363.90" y="182.50" font-size="5.4" fill="#333" stroke="#333" stroke-width="0.08" >434</text>
<text x="363.90" y="192.70" font-size="5.4" fill="#333" stroke="#333" stroke-width="0.08" >153</text>
<text x="377.50" y="182.50" font-size="5.4" fill="#333" stroke="#333" stroke-width="0.08" >335</text>
<text x="377.50" y="193.30" font-size="5.4" fill="#333" stroke="#333" stroke-width="0.08" >122</text>
<text x="403.20" y="184.30" font-size="5.4" fill="#333" stroke="#333" stroke-width="0.08" >34</text>
<text x="403.20" y="192.70" font-size="5.4" fill="#333" stroke="#333" stroke-width="0.08" >29</text>
<text x="416.30" y="184.30" font-size="5.4" fill="#333" stroke="#333" stroke-width="0.08" >34</text>
<text x="416.30" y="192.70" font-size="5.4" fill="#333" stroke="#333" stroke-width="0.08" >29</text>
<text x="443.59" y="178.30" font-size="5.4" fill="#333" stroke="#333" stroke-width="0.08" >1437</text>
<text x="443.59" y="195.10" font-size="5.4" fill="#333" stroke="#333" stroke-width="0.08" >1799</text>
<text x="458.19" y="178.30" font-size="5.4" fill="#333" stroke="#333" stroke-width="0.08" >1465</text>
<text x="458.19" y="195.10" font-size="5.4" fill="#333" stroke="#333" stroke-width="0.08" >1292</text>
<text x="492.50" y="183.40" font-size="5.4" fill="#333" stroke="#333" stroke-width="0.08" >207</text>
<text x="494.00" y="192.70" font-size="5.4" fill="#333" stroke="#333" stroke-width="0.08" >76</text>
<text x="505.80" y="184.30" font-size="5.4" fill="#333" stroke="#333" stroke-width="0.08" >134</text>
<text x="507.30" y="192.70" font-size="5.4" fill="#333" stroke="#333" stroke-width="0.08" >80</text>
<text x="527.60" y="179.80" font-size="5.4" fill="#333" stroke="#333" stroke-width="0.08" >1105</text>
<text x="528.80" y="192.70" font-size="5.4" fill="#333" stroke="#333" stroke-width="0.08" >336</text>
<text x="542.00" y="180.70" font-size="5.4" fill="#333" stroke="#333" stroke-width="0.08" >855</text>
<text x="542.00" y="192.70" font-size="5.4" fill="#333" stroke="#333" stroke-width="0.08" >296</text>
<text x="562.49" y="138.80" font-size="5.4" fill="#333" stroke="#333" stroke-width="0.08" >10494</text>
<text x="564.29" y="198.50" font-size="5.4" fill="#333" stroke="#333" stroke-width="0.08" >3570</text>
<text x="578.49" y="173.30" font-size="5.4" fill="#333" stroke="#333" stroke-width="0.08" >2597</text>
<text x="578.49" y="197.80" font-size="5.4" fill="#333" stroke="#333" stroke-width="0.08" >3248</text>
<text x="608.29" y="165.40" font-size="5.4" fill="#333" stroke="#333" stroke-width="0.08" >4570</text>
<text x="608.29" y="194.20" font-size="5.4" fill="#333" stroke="#333" stroke-width="0.08" >1800</text>
<text x="624.49" y="172.60" font-size="5.4" fill="#333" stroke="#333" stroke-width="0.08" >2800</text>
<text x="624.70" y="194.90" font-size="5.4" fill="#333" stroke="#333" stroke-width="0.08" >2113</text>
<text x="366.45" y="250.80" font-size="6.2" fill="#222" textLength="19.10" lengthAdjust="spacingAndGlyphs" stroke="#222" stroke-width="0.08" >3' UTR</text>
<text x="396.05" y="250.80" font-size="6.2" fill="#222" textLength="18.30" lengthAdjust="spacingAndGlyphs" stroke="#222" stroke-width="0.08" >5' UTR</text>
<text x="433.70" y="250.80" font-size="6.2" fill="#222" textLength="43.40" lengthAdjust="spacingAndGlyphs" stroke="#222" stroke-width="0.08" >Distal Intergenic</text>
<text x="486.75" y="250.80" font-size="6.2" fill="#222" textLength="33.50" lengthAdjust="spacingAndGlyphs" stroke="#222" stroke-width="0.08" >Downstream</text>
<text x="537.00" y="250.80" font-size="6.2" fill="#222" textLength="13.20" lengthAdjust="spacingAndGlyphs" stroke="#222" stroke-width="0.08" >Exon</text>
<text x="568.75" y="250.80" font-size="6.2" fill="#222" textLength="15.50" lengthAdjust="spacingAndGlyphs" stroke="#222" stroke-width="0.08" >Intron</text>
<text x="603.90" y="250.80" font-size="6.2" fill="#222" textLength="25.00" lengthAdjust="spacingAndGlyphs" stroke="#222" stroke-width="0.08" >Promoter</text>
<text x="630.00" y="156.80" font-size="6.8" fill="#ff2424" textLength="34.69" lengthAdjust="spacingAndGlyphs" stroke="#ff2424" stroke-width="0.08" >Up-regulated</text>
<text x="630.20" y="223.70" font-size="6.8" fill="#ff2424" textLength="42.50" lengthAdjust="spacingAndGlyphs" stroke="#ff2424" stroke-width="0.08" >Down-regulated</text>
<text x="308.20" y="191.00" font-size="6.9" fill="#222" textLength="47.40" lengthAdjust="spacingAndGlyphs" stroke="#222" stroke-width="0.08" transform="rotate(-90 331.90 191.00)" >Number of peaks</text>
<text x="101.00" y="274.10" font-size="11.8" fill="#111" textLength="50.09" lengthAdjust="spacingAndGlyphs" font-style="italic" stroke="#111" stroke-width="0.08" >A. mellifera</text>
<text x="155.50" y="274.10" font-size="11.8" fill="#111" textLength="81.09" lengthAdjust="spacingAndGlyphs" stroke="#111" stroke-width="0.08" >reference genome</text>
<text x="454.59" y="274.10" font-size="11.8" fill="#111" textLength="42.11" lengthAdjust="spacingAndGlyphs" font-style="italic" stroke="#111" stroke-width="0.08" >A. cerana</text>
<text x="501.40" y="274.10" font-size="11.8" fill="#111" textLength="81.09" lengthAdjust="spacingAndGlyphs" stroke="#111" stroke-width="0.08" >reference genome</text>
</svg>
</body></html>
